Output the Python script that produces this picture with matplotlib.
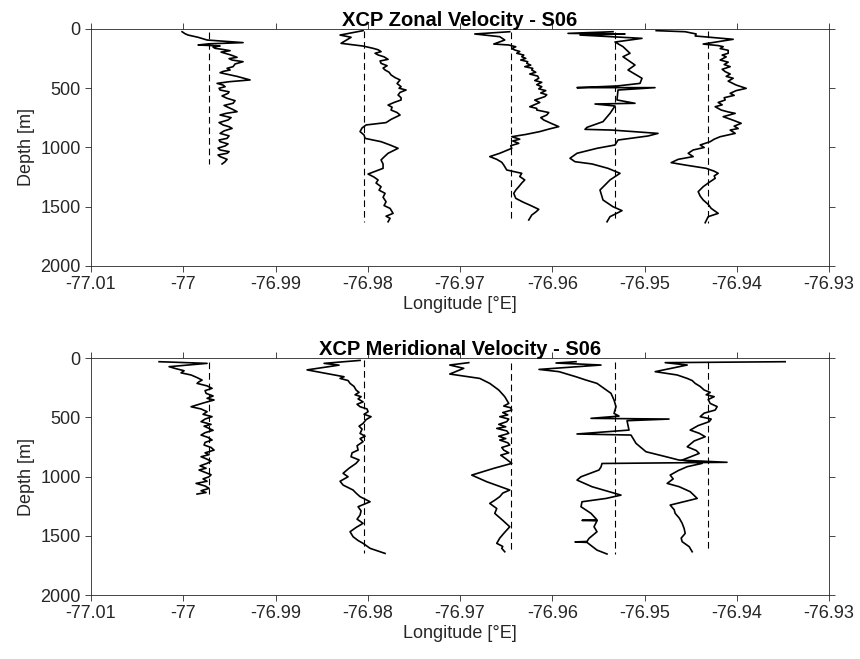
import numpy as np
import matplotlib
matplotlib.use("Agg")
import matplotlib.pyplot as plt

plt.rcParams['font.family'] = ['Liberation Sans', 'DejaVu Sans']

# station longitudes [deg E]
stations = [-76.9972, -76.9804, -76.9645, -76.9532, -76.9431]
# velocity -> longitude offset scale [deg per cm/s]
scale = 1.084e-4

xticks = [-77.01, -77.0, -76.99, -76.98, -76.97, -76.96, -76.95, -76.94, -76.93]
xticklabels = ["-77.01", "-77", "-76.99", "-76.98", "-76.97", "-76.96", "-76.95", "-76.94", "-76.93"]
yticks = [0, 500, 1000, 1500, 2000]

# -----------------------------
# zonal velocity profiles (depth [m], u [cm/s])
# -----------------------------
z_u1 = [23, 40, 51, 70, 93, 115, 125, 135, 143, 153, 163, 173, 183, 195, 205, 220, 239, 250, 262, 276,
        295, 318, 332, 346, 358, 369, 400, 430, 445, 459, 473, 487, 500, 515, 530, 543, 565, 585, 605, 627,
        645, 661, 680, 698, 712, 726, 748, 768, 790, 810, 825, 839, 860, 881, 902, 923, 937, 951, 970, 987,
        1005, 1021, 1035, 1049, 1063, 1077, 1100, 1120, 1139]
u1 = [-27, -24, -21, -11, -2, 34, 0, -11, 11, 4, 6, 14, 21, 12, 16, 22, 28, 20, 23, 34,
      26, 24, 18, 21, 14, 11, 28, 41, 20, 8, 14, 16, 10, 11, 20, 19, 13, 18, 26, 24,
      15, 19, 24, 28, 17, 11, 22, 19, 10, 14, 20, 23, 15, 11, 20, 18, 10, 11, 19, 16,
      9, 11, 20, 18, 9, 11, 18, 16, 13]

z_u2 = [14, 51, 70, 121, 144, 163, 175, 191, 205, 219, 235, 256, 270, 290, 310, 330, 346, 365, 388, 410,
        430, 460, 487, 500, 515, 535, 557, 580, 599, 620, 642, 660, 684, 705, 726, 763, 790, 810, 835, 866,
        895, 923, 951, 979, 1007, 1049, 1080, 1105, 1140, 1176, 1224, 1250, 1274, 1300, 1331, 1360, 1387,
        1420, 1458, 1490, 1514, 1556, 1580, 1598, 1627]
u2 = [-1, -24, -13, -23, -1, 9, 14, 17, 11, 14, 20, 24, 16, 17, 23, 19, 21, 25, 27, 31,
      36, 33, 37, 35, 42, 36, 34, 37, 37, 30, 24, 28, 27, 33, 36, 27, 22, 2, -2, -4,
      0, 1, 17, 26, 34, 24, 20, 17, 19, 19, 4, 10, 14, 12, 17, 15, 21,
      19, 22, 20, 26, 29, 22, 26, 24]

z_u3 = [23, 42, 65, 93, 127, 135, 150, 165, 177, 190, 205, 220, 234, 248, 262, 276, 290, 305, 318, 332,
        346, 365, 380, 398, 416, 435, 450, 470, 487, 505, 520, 540, 555, 571, 600, 620, 656, 670, 684, 705,
        726, 748, 768, 795, 824, 845, 866, 890, 909, 930, 945, 965, 985, 1007, 1049, 1077, 1100, 1125, 1148,
        1190, 1218, 1245, 1274, 1300, 1331, 1360, 1387, 1429, 1460, 1486, 1522, 1545, 1570, 1612]
u3 = [-1, -36, -11, -6, -17, -2, 5, 1, 4, 9, 6, 13, 11, 15, 10, 17, 16, 20, 14, 22,
      21, 25, 19, 27, 28, 24, 31, 26, 31, 28, 35, 30, 36, 34, 24, 29, 19, 26, 26, 38,
      36, 30, 33, 40, 48, 38, 29, 15, 1, 9, 2, 8, 0, 1, -11, -21, -14, -9, -7,
      -4, 11, 9, 14, 11, 8, 5, 3, 5, 12, 19, 28, 25, 21, 18]

z_u4 = [23, 37, 42, 51, 79, 110, 149, 205, 234, 304, 346, 416, 459, 481, 495, 495, 515, 599, 627, 633,
        650, 712, 782, 830, 847, 853, 881, 903, 937, 979, 1007, 1049, 1091, 1120, 1139, 1176, 1218, 1274,
        1359, 1443, 1500, 1533, 1584, 1627]
u4 = [-2, -47, 10, -35, 27, 0, 8, 15, 8, 20, 13, 27, 25, 2, -38, 40, 3, 2, 20, -20,
      0, -5, -12, -28, -30, -3, 43, 33, 3, 0, -18, -38, -45, -40, -23, -7, 5, -5,
      -15, -12, -2, 7, -5, -8]

z_u5 = [14, 23, 42, 59, 87, 127, 140, 149, 165, 180, 205, 220, 235, 262, 280, 300, 318, 340, 360, 380,
        400, 416, 440, 473, 501, 520, 543, 560, 580, 599, 620, 640, 656, 684, 700, 712, 740, 770, 796, 820,
        840, 853, 881, 909, 930, 951, 979, 1000, 1021, 1049, 1077, 1100, 1128, 1148, 1176, 1200, 1218, 1240,
        1260, 1300, 1331, 1373, 1410, 1443, 1480, 1514, 1556, 1584, 1635]
u5 = [-52, -23, -12, -13, 25, -5, 10, 15, 12, 20, 20, 14, 18, 12, 20, 16, 22, 14, 17, 22,
      18, 25, 20, 28, 38, 28, 22, 26, 16, 17, 10, 14, 7, 13, 20, 27, 15, 25, 33, 26,
      30, 22, 27, 12, 6, 2, -8, -4, -15, -20, -15, -30, -37, -23, -2, 6, 10, 6,
      7, 0, -5, -10, -8, -5, 0, 3, 10, 0, -3]

# -----------------------------
# meridional velocity profiles (depth [m], v [cm/s])
# -----------------------------
z_v1 = [31, 45, 73, 90, 107, 125, 143, 165, 186, 200, 214, 235, 256, 275, 298, 320, 340, 354, 380, 411,
        430, 453, 475, 495, 515, 537, 560, 575, 594, 610, 630, 650, 670, 692, 712, 734, 755, 777, 800, 815,
        833, 850, 870, 889, 910, 930, 945, 965, 985, 1002, 1020, 1040, 1058, 1080, 1100, 1120, 1135, 1148]
v1 = [-50, -2, -40, -33, -25, -28, -18, -12, -7, -10, -12, -2, 3, -4, -3, 4, -2, 5, -6, -18,
      -8, -2, -6, 3, -4, -8, 2, -5, 0, 4, -4, -8, -1, 3, -4, -5, 2, 5, -4, 0,
      -8, -3, 2, -2, -9, -3, -10, -4, 2, 0, -6, -2, -13, -4, 0, -8, -3, -12]

z_v2 = [20, 45, 60, 100, 158, 172, 190, 214, 240, 270, 290, 310, 326, 345, 370, 390, 411, 430, 453, 475,
        495, 520, 552, 575, 600, 636, 660, 680, 706, 740, 777, 800, 833, 860, 889, 930, 973, 1002, 1040, 1072,
        1114, 1140, 1170, 1213, 1255, 1290, 1325, 1360, 1395, 1430, 1466, 1508, 1540, 1564, 1606, 1649]
v2 = [-4, -40, -25, -57, -20, -24, -16, -14, -10, -8, -5, -9, -3, -6, -1, -7, -4, 3, 4, 0,
      7, 2, -1, -5, -2, -4, 1, -4, -1, -7, -6, -12, -13, -5, -8, -15, -21, -16, -24, -21,
      -11, -8, -4, 6, -6, -3, -4, -7, -1, -8, -14, -11, -6, -1, 6, 21]

z_v3 = [39, 59, 87, 135, 172, 214, 270, 326, 383, 405, 420, 439, 460, 480, 495, 515, 537, 560, 580, 594,
        615, 636, 660, 680, 692, 715, 734, 755, 777, 800, 820, 850, 889, 931, 988, 1044, 1114, 1140, 1170,
        1200, 1227, 1270, 1311, 1370, 1424, 1480, 1520, 1564, 1590, 1606, 1635]
v3 = [-42, -61, -47, -61, -31, -21, -12, -6, -2, -7, 0, 1, -8, -3, -11, -2, -4, -12, -5, -14,
      -4, -2, -12, -5, -11, -3, -1, -9, -7, -2, -10, -5, 1, -17, -39, -24, -1, -8, -11,
      -16, -21, -14, -16, -8, -1, -7, -11, -14, -8, -9, -6]

z_v4 = [31, 42, 59, 96, 115, 158, 186, 214, 256, 298, 354, 411, 467, 490, 509, 515, 529, 608, 641, 650,
        720, 791, 833, 861, 880, 890, 919, 945, 1002, 1030, 1086, 1157, 1185, 1213, 1255, 1311, 1366,
        1370, 1374, 1424, 1466, 1522, 1548, 1552, 1556, 1621, 1654]
v4 = [-39, -59, -14, -76, -56, -39, -29, -18, -11, -4, -1, 1, -1, 4, -24, 54, 12, 14, -38, 16,
      21, 31, 51, 64, 112, -13, -14, -16, -34, -38, -23, 6, -9, -33, -34, -24, -18,
      -33, -18, -21, -18, -26, -28, -40, -28, -18, -8]

z_v5 = [31, 39, 59, 115, 143, 172, 190, 214, 240, 270, 290, 310, 326, 350, 383, 410, 439, 465, 495, 515,
        537, 570, 608, 635, 664, 700, 749, 780, 805, 835, 861, 889, 917, 950, 988, 1020, 1058, 1086, 1128,
        1160, 1185, 1241, 1280, 1311, 1350, 1395, 1440, 1480, 1520, 1550, 1592, 1635]
v5 = [77, -43, -21, -53, -31, -21, -16, -13, -8, -4, 2, -2, 6, 0, 2, 9, 7, -4, -8, 3,
      1, -10, -18, -9, -3, -14, -21, -12, -9, -18, -26, -6, -21, -30, -38, -35, -41, -29, -18,
      -14, -11, -38, -34, -33, -29, -26, -24, -23, -27, -26, -19, -16]

zonal = [(z_u1, u1), (z_u2, u2), (z_u3, u3), (z_u4, u4), (z_u5, u5)]
merid = [(z_v1, v1), (z_v2, v2), (z_v3, v3), (z_v4, v4), (z_v5, v5)]

axcol = '#262626'

fig = plt.figure(figsize=(8.6, 6.59), dpi=100)
ax1 = fig.add_axes([0.1058, 0.5964, 0.8582, 0.3596])
ax2 = fig.add_axes([0.1058, 0.0971, 0.8582, 0.3596])


def draw_panel(ax, profiles, title):
    for lon, (z, vel) in zip(stations, profiles):
        z = np.array(z)
        vel = np.array(vel)
        ax.plot(lon + vel * scale, z, color='k', lw=1.2)
        ax.plot([lon, lon], [z.min(), z.max()], color='k', lw=0.8,
                linestyle=(0, (6, 3.5)))
    ax.set_xlim(-77.01, -76.93)
    ax.set_ylim(2000, 0)
    ax.set_xticks(xticks)
    ax.set_xticklabels(xticklabels)
    ax.set_yticks(yticks)
    ax.tick_params(direction='out', length=4, width=0.6, colors=axcol,
                   labelsize=13, top=True, right=True)
    for s in ax.spines.values():
        s.set_color(axcol)
        s.set_linewidth(0.6)
    ax.set_xlabel('Longitude [°E]', fontsize=13, color=axcol, labelpad=2)
    ax.set_ylabel('Depth [m]', fontsize=13, color=axcol, labelpad=4)
    ax.set_title(title, fontsize=14.5, fontweight='bold', color='k', pad=2)


draw_panel(ax1, zonal, 'XCP Zonal Velocity - S06')
draw_panel(ax2, merid, 'XCP Meridional Velocity - S06')

fig.savefig('out.png', dpi=100)
